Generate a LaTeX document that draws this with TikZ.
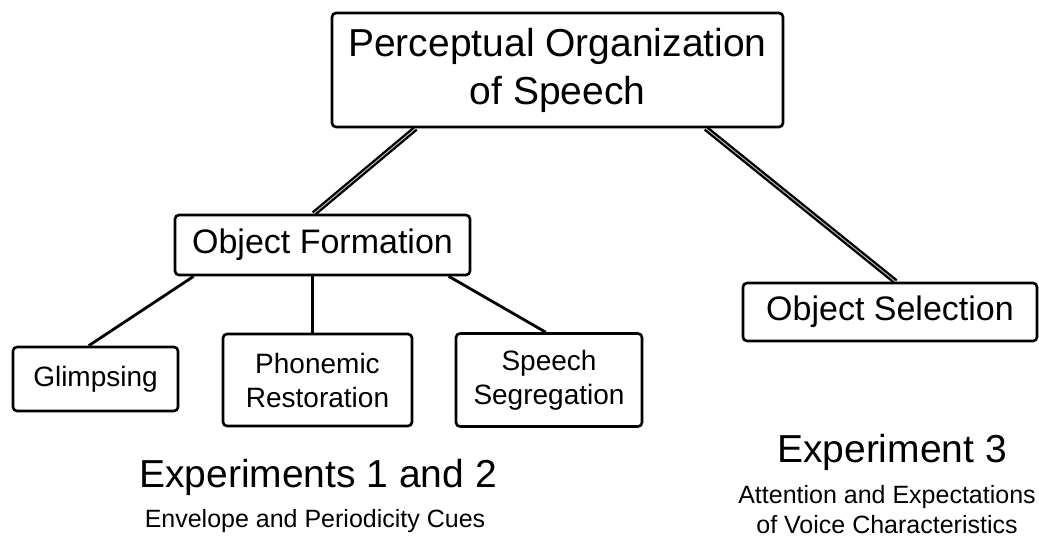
\documentclass[tikz,border=0pt]{standalone}
\usepackage{fontspec}
\setmainfont{Liberation Sans}
\begin{document}
\begin{tikzpicture}[x=1pt,y=-1pt,
  box/.style={draw=black, line width=2.6pt, rounded corners=4pt, fill=white, inner sep=0pt, align=center},
  thinlink/.style={draw=black, line width=2.8pt},
  thicklink/.style={draw=black, line width=2.3pt, double=gray!55, double distance=1pt},
  bigfont/.style={font=\fontsize{39}{48}\selectfont},
  midfont/.style={font=\fontsize{34}{40}\selectfont},
  smallfont/.style={font=\fontsize{28}{34}\selectfont},
  notefont/.style={font=\fontsize{25}{30}\selectfont}
]
\useasboundingbox[fill=white] (0,0) rectangle (1039,539);

\node[box, bigfont, minimum width=451pt, minimum height=114pt] (title) at (557.5,70) {Perceptual Organization\\of Speech};
\node[box, midfont, minimum width=295pt, minimum height=60pt] (of) at (322.5,245) {Object Formation};
\node[box, midfont, minimum width=294pt, minimum height=58pt] (os) at (890,312) {Object Selection};
\node[box, smallfont, minimum width=165pt, minimum height=64pt] (gl) at (95.5,379) {Glimpsing};
\node[box, smallfont, minimum width=189pt, minimum height=92pt] (ph) at (317.5,380) {Phonemic\\Restoration};
\node[box, smallfont, minimum width=186pt, minimum height=93pt] (ss) at (549,380) {Speech\\Segregation};

\path[thicklink] ([xshift=85pt]title.south west) -- ([xshift=140pt]of.north west);
\path[thicklink] ([xshift=375pt]title.south west) -- ([xshift=154pt]os.north west);
\path[thinlink] ([xshift=20pt]of.south west) -- ([xshift=77pt]gl.north west);
\path[thinlink] ([xshift=139pt]of.south west) -- ([xshift=91pt]ph.north west);
\path[thinlink] ([xshift=275pt]of.south west) -- ([xshift=91pt]ss.north west);

\node[bigfont, anchor=base, inner sep=0pt] (e12) at (318,487) {Experiments 1 and 2};
\node[notefont, anchor=base, inner sep=0pt] (e12n) at (315,527) {Envelope and Periodicity Cues};
\node[bigfont, anchor=base, inner sep=0pt] (e3) at (892,462) {Experiment 3};
\node[notefont, anchor=base, inner sep=0pt] (e3a) at (887,503) {Attention and Expectations};
\node[notefont, anchor=base, inner sep=0pt] (e3b) at (887,533) {of Voice Characteristics};
\end{tikzpicture}
\end{document}
